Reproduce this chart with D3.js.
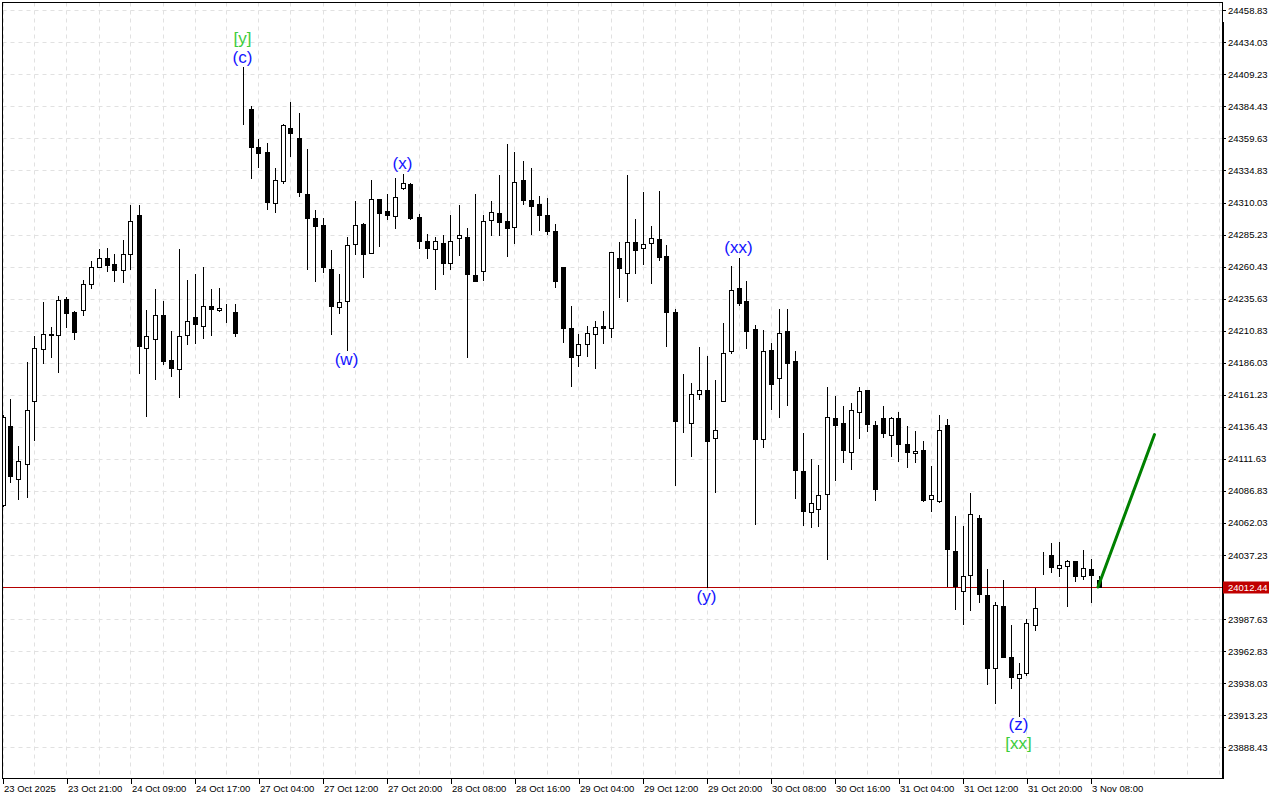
<!DOCTYPE html>
<html>
<head>
<meta charset="utf-8">
<script src="https://cdn.jsdelivr.net/npm/d3@7"></script>
<style>
  html, body { margin: 0; padding: 0; background: #ffffff; }
  svg { display: block; }
  text { font-family: "Liberation Sans", Arial, sans-serif; }
</style>
</head>
<body>
<svg id="chart" width="1280" height="800"></svg>
<script>
// ---- data (H1 candles, index = bar number) ----
const opens = [24076.2,24137.2,24096.1,24107.7,24156.3,24196.6,24208.3,24207.7,24235.6,24225.5,24227.1,24247.2,24260.4,24267.4,24262.2,24258.1,24270.5,24300.2,24197.6,24204.6,24223.2,24188.3,24181.4,24207.7,24221.1,24214.7,24230.2,24227.1,24227.9,24225.5,
24381.8,24382.1,24353.4,24348.8,24310.0,24326.8,24368.1,24359.8,24317.0,24297.8,24292.4,24258.3,24229.4,24234.1,24277.9,24293.2,24271.0,24313.1,24303.3,24299.6,24320.9,24324.7,24299.2,24280.6,24274.4,24279.0,24263.5,24282.9,24283.7,24254.2,
24257.3,24296.8,24302.3,24295.5,24291.4,24327.8,24312.3,24309.2,24300.7,24287.8,24260.4,24213.1,24192.2,24200.7,24208.5,24214.2,24213.1,24267.4,24255.5,24279.8,24275.1,24279.0,24282.1,24268.4,24225.0,24140.2,24139.5,24162.0,24165.1,24127.9,
24156.6,24195.3,24243.6,24233.5,24211.8,24126.8,24195.6,24174.4,24210.3,24187.0,24102.3,24070.8,24072.9,24084.5,24143.4,24139.5,24116.7,24148.0,24164.6,24138.0,24142.9,24130.2,24142.9,24123.2,24116.3,24118.1,24080.3,24079.1,24138.2,24040.5,
24009.3,24021.7,24066.1,24006.4,23949.6,23997.9,23958.2,23941.9,23945.5,23983.4,24035.5,24037.2,24026.8,24028.7,24032.6,24020.9,24026.6,24017.8];
const highs = [24145.2,24158.1,24121.7,24186.8,24206.4,24232.7,24213.4,24237.9,24237.2,24226.3,24249.8,24264.5,24274.4,24275.1,24270.5,24281.3,24308.5,24308.5,24227.1,24242.8,24234.1,24210.3,24274.4,24249.8,24254.4,24260.4,24242.8,24243.6,24231.7,24231.7,
24414.6,24384.4,24359.1,24356.5,24337.1,24370.7,24387.5,24379.0,24351.1,24304.1,24297.8,24273.1,24254.4,24283.1,24311.0,24294.5,24327.3,24313.1,24317.0,24328.9,24332.5,24325.5,24301.5,24285.5,24283.4,24284.7,24300.2,24307.9,24290.6,24316.5,
24300.2,24311.0,24331.2,24355.7,24348.8,24341.8,24337.1,24315.4,24313.3,24293.7,24260.4,24230.2,24208.0,24214.2,24218.0,24225.8,24272.0,24279.3,24331.7,24297.6,24317.8,24292.2,24319.0,24276.9,24227.6,24177.5,24170.5,24197.9,24190.9,24172.3,
24216.5,24260.6,24267.4,24249.0,24215.5,24211.1,24201.0,24227.6,24227.9,24194.8,24131.8,24111.6,24107.2,24167.4,24160.4,24152.7,24154.5,24167.4,24164.6,24140.8,24152.7,24144.4,24148.0,24136.7,24133.3,24125.6,24106.4,24145.7,24142.1,24067.7,
24059.9,24085.5,24068.4,24026.4,24001.0,24017.8,23983.0,23953.5,23987.6,24011.6,24039.8,24046.7,24047.5,24033.3,24032.6,24041.3,24034.4,24021.2];
const lows = [24075.4,24093.5,24080.6,24082.2,24126.3,24185.7,24190.4,24178.7,24213.6,24204.1,24222.9,24243.8,24259.9,24257.0,24249.3,24248.5,24258.9,24178.0,24144.6,24173.3,24184.7,24175.6,24159.4,24200.4,24201.2,24205.1,24207.4,24226.0,24217.5,24206.6,
24370.5,24329.4,24337.6,24305.4,24302.7,24325.5,24346.1,24315.1,24258.6,24249.3,24256.2,24208.2,24224.5,24195.6,24270.2,24252.4,24270.7,24276.4,24297.3,24290.3,24320.3,24297.3,24275.1,24267.1,24243.1,24254.7,24258.9,24269.4,24190.4,24249.6,
24249.8,24285.2,24284.7,24268.6,24278.7,24309.2,24286.0,24288.8,24285.5,24244.6,24202.0,24167.9,24183.4,24191.1,24181.8,24201.2,24205.9,24236.9,24233.8,24255.5,24262.4,24247.7,24265.3,24198.9,24091.2,24132.2,24113.6,24158.1,24012.1,24085.7,
24156.6,24193.5,24230.7,24197.3,24060.9,24120.9,24150.4,24143.9,24153.5,24081.1,24060.2,24058.6,24059.4,24034.1,24095.0,24109.0,24103.6,24127.6,24133.0,24079.5,24128.4,24113.6,24109.8,24105.1,24109.0,24078.8,24071.0,24078.0,24012.9,23995.1,
23983.7,23994.3,24000.5,23937.7,23923.0,23958.4,23934.6,23912.7,23944.5,23979.3,24022.2,24023.7,24020.6,23997.4,24016.8,24018.3,24000.5,24012.4];
const closes = [24143.9,24098.4,24110.1,24149.6,24197.6,24208.5,24207.6,24234.8,24224.5,24209.7,24247.2,24260.4,24267.4,24261.7,24257.8,24270.5,24296.1,24198.9,24206.9,24223.2,24187.3,24182.1,24206.9,24218.6,24215.9,24230.2,24227.6,24228.6,24227.8,24209.3,
24381.4,24353.1,24348.0,24310.5,24327.3,24369.9,24363.5,24318.2,24298.1,24292.2,24260.1,24229.9,24233.3,24277.5,24292.4,24270.2,24313.1,24302.0,24300.4,24314.7,24325.5,24298.1,24280.3,24275.1,24280.6,24263.2,24280.6,24285.2,24254.7,24249.6,
24296.1,24303.0,24295.0,24290.6,24326.3,24312.0,24307.4,24300.7,24288.0,24249.6,24212.8,24190.4,24200.7,24209.0,24213.9,24213.1,24272.0,24259.3,24279.8,24273.3,24277.9,24282.6,24267.9,24225.5,24140.8,24139.9,24162.0,24164.8,24125.3,24134.1,
24193.8,24242.6,24232.2,24210.5,24126.8,24194.8,24169.4,24209.3,24185.7,24102.8,24071.0,24077.5,24083.7,24144.2,24137.7,24118.3,24149.6,24164.3,24138.4,24088.1,24131.5,24142.9,24122.9,24116.7,24117.8,24080.1,24083.4,24134.1,24041.6,24012.9,
24021.2,24069.0,24006.7,23950.1,23998.5,23958.4,23942.4,23945.0,23984.5,23996.1,24035.3,24027.6,24029.5,24032.8,24020.6,24027.4,24021.4,24012.44];

const priceTicks = [24458.83,24434.03,24409.23,24384.43,24359.63,24334.83,24310.03,24285.23,24260.43,24235.63,24210.83,24186.03,24161.23,24136.43,24111.63,24086.83,24062.03,24037.23,23987.63,23962.83,23938.03,23913.23,23888.43];
const gridPrices = [24458.83,24434.03,24409.23,24384.43,24359.63,24334.83,24310.03,24285.23,24260.43,24235.63,24210.83,24186.03,24161.23,24136.43,24111.63,24086.83,24062.03,24037.23,24012.43,23987.63,23962.83,23938.03,23913.23,23888.43];
const timeTickIdx = [0,8,16,24,32,40,48,56,64,72,80,88,96,104,112,120,128,136];
const timeTickLabels = ["23 Oct 2025","23 Oct 21:00","24 Oct 09:00","24 Oct 17:00","27 Oct 04:00","27 Oct 12:00","27 Oct 20:00","28 Oct 08:00","28 Oct 16:00","29 Oct 04:00","29 Oct 12:00","29 Oct 20:00","30 Oct 08:00","30 Oct 16:00","31 Oct 04:00","31 Oct 12:00","31 Oct 20:00","3 Nov 08:00"];
const currentPrice = 24012.44;

// wave labels: bar index, anchor price, side, text, colour group
const waveIdx   = [30, 30, 43, 50, 92, 88, 127, 127];
const wavePrice = [24414.6, 24414.6, 24195.6, 24332.5, 24267.4, 24012.1, 23912.7, 23912.7];
const waveSide  = ["above2","above","below","above","above","below","below","below2"];
const waveText  = ["[y]","(c)","(w)","(x)","(xx)","(y)","(z)","[xx]"];
const waveKind  = ["major","minor","minor","minor","minor","minor","minor","major"];

// projection line
const projIdx = [137, 144];
const projPrice = [24012.44, 24130.4];

// ---- layout ----
const W = 1280, H = 800;
const pLeft = 2.5, pTop = 2.5, pRight = 1222, pBottom = 778.5;
const svg = d3.select("#chart");
svg.append("rect").attr("width", W).attr("height", H).attr("fill", "#ffffff");

const x = d3.scaleLinear().domain([0, 152]).range([2.5, 2.5 + 8 * 152]);
const y = d3.scaleLinear().domain([23888.43, 24458.83]).range([747.2, 10.3]);

svg.append("defs").append("clipPath").attr("id", "plotClip")
  .append("rect").attr("x", pLeft).attr("y", pTop).attr("width", pRight - pLeft).attr("height", pBottom - pTop);

const plot = svg.append("g").attr("clip-path", "url(#plotClip)");

// grid
const vIdx = d3.range(0, 153, 4);
plot.append("g").selectAll("line").data(vIdx).join("line")
  .attr("x1", d => Math.round(x(d)) + 0.5).attr("x2", d => Math.round(x(d)) + 0.5)
  .attr("y1", pTop).attr("y2", pBottom)
  .attr("stroke", "#e1e1e1").attr("stroke-width", 1).attr("stroke-dasharray", "4,4");
plot.append("g").selectAll("line").data(gridPrices).join("line")
  .attr("x1", pLeft).attr("x2", pRight)
  .attr("y1", d => Math.round(y(d)) + 0.5).attr("y2", d => Math.round(y(d)) + 0.5)
  .attr("stroke", "#e1e1e1").attr("stroke-width", 1).attr("stroke-dasharray", "4,4");

// current price line
plot.append("line")
  .attr("x1", pLeft).attr("x2", pRight)
  .attr("y1", Math.round(y(currentPrice)) + 0.5).attr("y2", Math.round(y(currentPrice)) + 0.5)
  .attr("stroke", "#b40000").attr("stroke-width", 1);

// candles
const idx = d3.range(opens.length);
const cg = plot.append("g").attr("shape-rendering", "crispEdges");
cg.selectAll("line.wick").data(idx).join("line").attr("class", "wick")
  .attr("x1", i => Math.round(x(i)) + 0.5).attr("x2", i => Math.round(x(i)) + 0.5)
  .attr("y1", i => Math.round(y(highs[i]))).attr("y2", i => Math.round(y(lows[i])) + 1)
  .attr("stroke", "#000").attr("stroke-width", 1);
cg.selectAll("rect.body").data(idx).join("rect").attr("class", "body")
  .attr("x", i => Math.round(x(i)) - 1.5)
  .attr("width", 4)
  .attr("y", i => Math.round(y(Math.max(opens[i], closes[i]))) + 0.5)
  .attr("height", i => Math.max(0, Math.round(y(Math.min(opens[i], closes[i]))) - Math.round(y(Math.max(opens[i], closes[i])))))
  .attr("fill", i => closes[i] >= opens[i] ? "#ffffff" : "#000000")
  .attr("stroke", "#000").attr("stroke-width", 1);

// projection line
plot.append("line")
  .attr("x1", x(projIdx[0]) - 0.5).attr("y1", y(projPrice[0]))
  .attr("x2", x(projIdx[1])).attr("y2", y(projPrice[1]))
  .attr("stroke", "#008000").attr("stroke-width", 3).attr("stroke-linecap", "round");

// wave labels
const offs = { above: -10, above2: -29, below: 9, below2: 28 };
plot.append("g").selectAll("text").data(waveIdx.map((d, i) => i)).join("text")
  .attr("x", i => x(waveIdx[i]))
  .attr("y", i => y(wavePrice[i]) + offs[waveSide[i]])
  .attr("text-anchor", "middle").attr("dominant-baseline", "central")
  .attr("font-family", "DejaVu Sans, sans-serif").attr("font-size", 17)
  .attr("fill", i => waveKind[i] === "major" ? "#3ccc3c" : "#1414ff")
  .text(i => waveText[i]);

// frame
svg.append("path")
  .attr("d", `M${pLeft},${pBottom} V${pTop} H${pRight} V${pBottom} Z`)
  .attr("fill", "none").attr("stroke", "#000").attr("stroke-width", 1).attr("shape-rendering", "crispEdges");
svg.append("line").attr("x1", pRight + 0.5).attr("x2", pRight + 0.5).attr("y1", 22).attr("y2", pBottom)
  .attr("stroke", "#000").attr("stroke-width", 2).attr("shape-rendering", "crispEdges");

// right price axis
const yAxis = d3.axisRight(y).tickValues(priceTicks).tickSize(3).tickPadding(2).tickFormat(d3.format(".2f"));
const ya = svg.append("g").attr("transform", `translate(${pRight + 1},0)`).call(yAxis);
ya.select(".domain").remove();
ya.selectAll(".tick line").attr("stroke", "#000").attr("shape-rendering", "crispEdges");
ya.selectAll(".tick text").attr("font-family", "Liberation Sans, Arial, sans-serif").attr("font-size", 9.5).attr("fill", "#000");

// current price tag
const cy = Math.round(y(currentPrice)) + 0.5;
svg.append("rect").attr("x", pRight + 1).attr("y", cy - 6).attr("width", 46).attr("height", 12).attr("fill", "#c00000");
svg.append("text").attr("x", pRight + 6).attr("y", cy).attr("dominant-baseline", "central")
  .attr("font-size", 9.5).attr("fill", "#ffffff").text(d3.format(".2f")(currentPrice));

// bottom time axis
const xAxis = d3.axisBottom(x).tickValues(timeTickIdx).tickSize(5).tickPadding(2)
  .tickFormat((d, i) => timeTickLabels[i]);
const xa = svg.append("g").attr("transform", `translate(0,${pBottom})`).call(xAxis);
xa.select(".domain").remove();
xa.selectAll(".tick line").attr("stroke", "#000").attr("shape-rendering", "crispEdges");
xa.selectAll(".tick text").attr("text-anchor", "start").attr("dx", 1)
  .attr("font-family", "Liberation Sans, Arial, sans-serif").attr("font-size", 9.5).attr("fill", "#000");
</script>
</body>
</html>
